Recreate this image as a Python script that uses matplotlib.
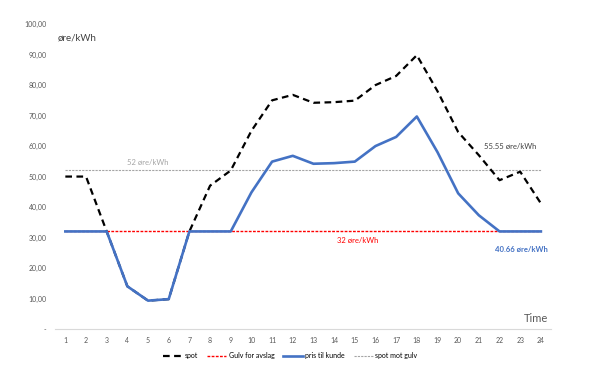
import matplotlib
matplotlib.use('Agg')
from matplotlib import pyplot as plt

plt.rcParams['font.family'] = ['Lato', 'DejaVu Sans']

# data
hours = list(range(1, 25))
spot = [50, 50, 32, 14, 9.3, 9.8, 32, 47, 52, 65, 75, 76.8, 74.2, 74.4, 74.9, 80, 83, 89.8, 78, 64.6, 57, 48.8, 51.6, 41.2]
pris = [32, 32, 32, 14, 9.3, 9.8, 32, 32, 32, 44.8, 54.9, 56.8, 54.2, 54.4, 54.9, 60, 63, 69.7, 58, 44.5, 37.3, 32, 32, 32]
gulv = [32] * 24
spot_mot_gulv = [52] * 24
yticks = [0, 10, 20, 30, 40, 50, 60, 70, 80, 90, 100]
ytick_labels = ['-', '10,00', '20,00', '30,00', '40,00', '50,00', '60,00', '70,00', '80,00', '90,00', '100,00']

fig = plt.figure(figsize=(6.05, 3.71), dpi=100)
ax = fig.add_axes([0.0909, 0.1132, 0.8202, 0.8218])

ax.plot(hours, spot, c='black', lw=1.6, ls=(0, (3, 2)), label='spot', zorder=3)
ax.plot(hours, gulv, c='#FF0000', lw=1.0, ls=(0, (2, 1)), label='Gulv for avslag', zorder=2)
ax.plot(hours, pris, c='#4472C4', lw=1.9, label='pris til kunde', zorder=4)
ax.plot(hours, spot_mot_gulv, c='#A5A5A5', lw=0.8, ls=(0, (2, 1)), label='spot mot gulv', zorder=1)

ax.set_xlim(0.5, 24.5)
ax.set_ylim(0, 100)
ax.set_xticks(hours)
ax.set_yticks(yticks)
ax.set_yticklabels(ytick_labels)
ax.tick_params(axis='both', length=0, labelsize=5, colors='#595959')
ax.tick_params(axis='x', pad=6)
ax.tick_params(axis='y', pad=6)
for s in ['top', 'right', 'left']:
    ax.spines[s].set_visible(False)
ax.spines['bottom'].set_color('#D9D9D9')

# tekster
ax.text(0.65, 95.4, 'øre/kWh', fontsize=7, color='#404040', va='center')
ax.text(4.0, 54.6, '52 øre/kWh', fontsize=5.5, color='#A5A5A5', va='center')
ax.text(21.25, 59.7, '55.55 øre/kWh', fontsize=5.5, color='#404040', va='center')
ax.text(14.15, 29.0, '32 øre/kWh', fontsize=5.5, color='#FF0000', va='center')
ax.text(21.8, 26.2, '40.66 øre/kWh', fontsize=5.5, color='#4472C4', fontweight='bold', va='center')
ax.text(23.2, 3.3, 'Time', fontsize=8, color='#595959', va='center')

ax.legend(loc='center', bbox_to_anchor=(0.474, -0.087), ncol=4, frameon=False,
          fontsize=5, handlelength=2.8, columnspacing=1.3, handletextpad=0.3)

plt.savefig('out.png', dpi=100)
